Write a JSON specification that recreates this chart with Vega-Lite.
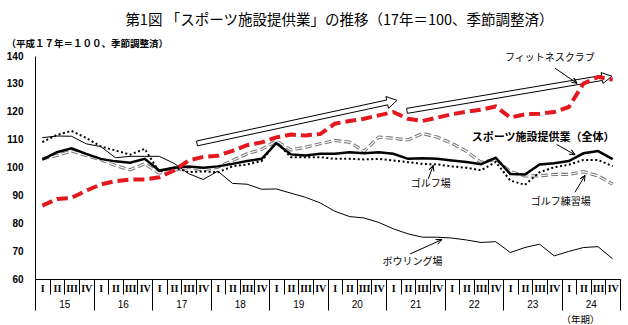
{
  "$schema": "https://vega.github.io/schema/vega-lite/v6.json",
  "width": 585,
  "height": 223,
  "autosize": {"type": "none"},
  "padding": {"left": 35, "top": 56, "right": 8, "bottom": 46},
  "background": "white",
  "config": {"view": {"stroke": null}, "font": "Noto Sans CJK JP"},
  "title": {"text": "第1図 「スポーツ施設提供業」の推移（17年＝100、季節調整済）", "anchor": "middle", "frame": "group", "fontSize": 14.5, "fontWeight": "normal", "font": "Noto Sans CJK JP", "offset": 10, "dx": 12, "color": "black"},
  "datasets": {
    "series": [
      {"t": 2015.125, "fitness": 86.3, "overall": 102.8, "golf": 109.1, "practice": 103.1, "bowling": 110.7},
      {"t": 2015.375, "fitness": 88.7, "overall": 105.5, "golf": 111.7, "practice": 104.3, "bowling": 111.3},
      {"t": 2015.625, "fitness": 89.1, "overall": 106.9, "golf": 113.1, "practice": 105.9, "bowling": 111.2},
      {"t": 2015.875, "fitness": 91.7, "overall": 104.9, "golf": 110.6, "practice": 104.3, "bowling": 108.5},
      {"t": 2016.125, "fitness": 93.9, "overall": 103.1, "golf": 107.6, "practice": 102.8, "bowling": 107.5},
      {"t": 2016.375, "fitness": 95.1, "overall": 102.2, "golf": 106.1, "practice": 100.7, "bowling": 103.5},
      {"t": 2016.625, "fitness": 95.7, "overall": 101.7, "golf": 104.6, "practice": 99.2, "bowling": 104},
      {"t": 2016.875, "fitness": 95.7, "overall": 103.1, "golf": 106.7, "practice": 101.3, "bowling": 104},
      {"t": 2017.125, "fitness": 96.5, "overall": 98.9, "golf": 98.4, "practice": 98, "bowling": 104},
      {"t": 2017.375, "fitness": 98.9, "overall": 99.9, "golf": 100.1, "practice": 99, "bowling": 101.5},
      {"t": 2017.625, "fitness": 102.5, "overall": 100.4, "golf": 98.3, "practice": 100, "bowling": 97.8},
      {"t": 2017.875, "fitness": 103.8, "overall": 99.9, "golf": 98.6, "practice": 99.2, "bowling": 95.7},
      {"t": 2018.125, "fitness": 104.2, "overall": 100.4, "golf": 98.3, "practice": 100.1, "bowling": 98.7},
      {"t": 2018.375, "fitness": 106, "overall": 101.3, "golf": 100.4, "practice": 102.5, "bowling": 94.3},
      {"t": 2018.625, "fitness": 108, "overall": 102.3, "golf": 101.1, "practice": 104.9, "bowling": 94},
      {"t": 2018.875, "fitness": 109, "overall": 103.1, "golf": 102.3, "practice": 106.5, "bowling": 92.2},
      {"t": 2019.125, "fitness": 110.8, "overall": 108.7, "golf": 109.1, "practice": 109.5, "bowling": 92.3},
      {"t": 2019.375, "fitness": 111.8, "overall": 104.7, "golf": 103.7, "practice": 106.3, "bowling": 90.8},
      {"t": 2019.625, "fitness": 111.5, "overall": 104.3, "golf": 103.7, "practice": 107.3, "bowling": 89.3},
      {"t": 2019.875, "fitness": 112, "overall": 104.9, "golf": 103.7, "practice": 108.5, "bowling": 87.3},
      {"t": 2020.125, "fitness": 115.7, "overall": 104.9, "golf": 103.1, "practice": 109.7, "bowling": 84.3},
      {"t": 2020.375, "fitness": 116.7, "overall": 105.5, "golf": 103.1, "practice": 109.1, "bowling": 82.4},
      {"t": 2020.625, "fitness": 117.5, "overall": 105.1, "golf": 102.9, "practice": 105.8, "bowling": 81.9},
      {"t": 2020.875, "fitness": 118.7, "overall": 105.5, "golf": 103.1, "practice": 110.9, "bowling": 80.3},
      {"t": 2021.125, "fitness": 119.9, "overall": 104.9, "golf": 102.5, "practice": 110.5, "bowling": 78},
      {"t": 2021.375, "fitness": 117.5, "overall": 103.1, "golf": 101.9, "practice": 109.9, "bowling": 76.2},
      {"t": 2021.625, "fitness": 116.7, "overall": 103.3, "golf": 101.3, "practice": 112.2, "bowling": 75},
      {"t": 2021.875, "fitness": 117.9, "overall": 103.1, "golf": 101.1, "practice": 110.9, "bowling": 75},
      {"t": 2022.125, "fitness": 119.1, "overall": 102.5, "golf": 100.4, "practice": 108.7, "bowling": 74.7},
      {"t": 2022.375, "fitness": 120, "overall": 102, "golf": 99.9, "practice": 105.8, "bowling": 74},
      {"t": 2022.625, "fitness": 120.7, "overall": 101.2, "golf": 99, "practice": 101.8, "bowling": 73.1},
      {"t": 2022.875, "fitness": 121.9, "overall": 103.5, "golf": 102, "practice": 103, "bowling": 73.4},
      {"t": 2023.125, "fitness": 117.9, "overall": 97.7, "golf": 95.3, "practice": 98.5, "bowling": 69.5},
      {"t": 2023.375, "fitness": 119.1, "overall": 97.5, "golf": 93.8, "practice": 97, "bowling": 71.3},
      {"t": 2023.625, "fitness": 119.3, "overall": 101.1, "golf": 98.3, "practice": 97, "bowling": 72.5},
      {"t": 2023.875, "fitness": 119.9, "overall": 101.5, "golf": 100.1, "practice": 97.5, "bowling": 68.3},
      {"t": 2024.125, "fitness": 121.7, "overall": 102.3, "golf": 101, "practice": 97.5, "bowling": 69.9},
      {"t": 2024.375, "fitness": 130.1, "overall": 105.1, "golf": 102.7, "practice": 98.5, "bowling": 71.3},
      {"t": 2024.625, "fitness": 132.5, "overall": 105.9, "golf": 102.7, "practice": 97, "bowling": 71.6},
      {"t": 2024.875, "fitness": 131.5, "overall": 103, "golf": 100.5, "practice": 94, "bowling": 67.2}
    ],
    "shapes": [
      {"id": "a1", "seq": 1, "t": 2017.7775, "value": 107.77},
      {"id": "a1", "seq": 2, "t": 2021.03, "value": 122.48},
      {"id": "a1", "seq": 3, "t": 2021.0425, "value": 121.22},
      {"id": "a1", "seq": 4, "t": 2021.1875, "value": 124.1},
      {"id": "a1", "seq": 5, "t": 2020.9975, "value": 125.47},
      {"id": "a1", "seq": 6, "t": 2021.0125, "value": 124.21},
      {"id": "a1", "seq": 7, "t": 2017.76, "value": 109.5},
      {"id": "a1", "seq": 8, "t": 2017.7775, "value": 107.77},
      {"id": "a2", "seq": 1, "t": 2021.365, "value": 119.42},
      {"id": "a2", "seq": 2, "t": 2024.7, "value": 131.22},
      {"id": "a2", "seq": 3, "t": 2024.71, "value": 130.18},
      {"id": "a2", "seq": 4, "t": 2024.8625, "value": 132.73},
      {"id": "a2", "seq": 5, "t": 2024.6775, "value": 134.06},
      {"id": "a2", "seq": 6, "t": 2024.6875, "value": 133.02},
      {"id": "a2", "seq": 7, "t": 2021.3525, "value": 121.22},
      {"id": "a2", "seq": 8, "t": 2021.365, "value": 119.42},
      {"id": "p1", "seq": 1, "t": 2023.89, "value": 135.61},
      {"id": "p1", "seq": 2, "t": 2024.265, "value": 130.22},
      {"id": "p1", "seq": 3, "t": 2024.2125, "value": 132.09},
      {"id": "p1", "seq": 4, "t": 2024.265, "value": 130.22},
      {"id": "p1", "seq": 5, "t": 2024.165, "value": 130.58},
      {"id": "p2", "seq": 1, "t": 2023.9175, "value": 108.27},
      {"id": "p2", "seq": 2, "t": 2024.23, "value": 104.57},
      {"id": "p2", "seq": 3, "t": 2024.17, "value": 106.33},
      {"id": "p2", "seq": 4, "t": 2024.23, "value": 104.57},
      {"id": "p2", "seq": 5, "t": 2024.1275, "value": 104.75},
      {"id": "p3", "seq": 1, "t": 2021.7225, "value": 95.94},
      {"id": "p3", "seq": 2, "t": 2021.8075, "value": 100.72},
      {"id": "p3", "seq": 3, "t": 2021.735, "value": 99.21},
      {"id": "p3", "seq": 4, "t": 2021.8075, "value": 100.72},
      {"id": "p3", "seq": 5, "t": 2021.8175, "value": 98.56},
      {"id": "p4", "seq": 1, "t": 2024.23, "value": 91.12},
      {"id": "p4", "seq": 2, "t": 2024.4025, "value": 97.12},
      {"id": "p4", "seq": 3, "t": 2024.315, "value": 95.9},
      {"id": "p4", "seq": 4, "t": 2024.4025, "value": 97.12},
      {"id": "p4", "seq": 5, "t": 2024.3925, "value": 94.96},
      {"id": "p5", "seq": 1, "t": 2021.41, "value": 68.96},
      {"id": "p5", "seq": 2, "t": 2021.9525, "value": 74.1},
      {"id": "p5", "seq": 3, "t": 2021.85, "value": 74.14},
      {"id": "p5", "seq": 4, "t": 2021.9525, "value": 74.1},
      {"id": "p5", "seq": 5, "t": 2021.885, "value": 72.48}
    ],
    "labels": [
      {"t": 2023.8025, "value": 139.2, "label": "フィットネスクラブ"},
      {"t": 2021.765, "value": 94.14, "label": "ゴルフ場"},
      {"t": 2023.9875, "value": 87.52, "label": "ゴルフ練習場"},
      {"t": 2021.4525, "value": 65.93, "label": "ボウリング場"}
    ],
    "boldlabels": [
      {"t": 2023.685, "value": 110.43, "label": "スポーツ施設提供業（全体）"}
    ]
  },
  "encoding": {
    "x": {"field": "t", "type": "quantitative", "scale": {"domain": [2015, 2025], "nice": false, "zero": false}, "axis": null},
    "y": {
      "field": "value", "type": "quantitative",
      "scale": {"domain": [60, 140], "nice": false, "zero": false},
      "axis": {
        "orient": "left",
        "values": [60, 70, 80, 90, 100, 110, 120, 130, 140],
        "grid": false, "ticks": false, "domain": true, "domainColor": "black", "domainWidth": 1,
        "labelFont": "Liberation Sans", "labelFontSize": 10, "labelFontWeight": "bold", "labelColor": "black", "labelPadding": 12,
        "title": "（平成１７年＝１００、季節調整済）", "titleAngle": 0, "titleAlign": "left", "titleBaseline": "middle",
        "titleX": -29, "titleY": -13, "titleFont": "Noto Sans CJK JP", "titleFontSize": 9.5, "titleFontWeight": "bold", "titleColor": "black"
      }
    }
  },
  "layer": [
    {
      "data": {"name": "shapes"},
      "mark": {"type": "line", "color": "black", "strokeWidth": 1},
      "encoding": {
        "x": {"field": "t", "type": "quantitative", "scale": {"domain": [2015, 2025], "nice": false, "zero": false},
          "axis": {"orient": "bottom", "values": [2015, 2015.25, 2015.5, 2015.75, 2016, 2016.25, 2016.5, 2016.75, 2017, 2017.25, 2017.5, 2017.75, 2018, 2018.25, 2018.5, 2018.75, 2019, 2019.25, 2019.5, 2019.75, 2020, 2020.25, 2020.5, 2020.75, 2021, 2021.25, 2021.5, 2021.75, 2022, 2022.25, 2022.5, 2022.75, 2023, 2023.25, 2023.5, 2023.75, 2024, 2024.25, 2024.5, 2024.75, 2025],
            "ticks": true, "tickSize": 15, "tickColor": "black", "tickWidth": 1, "labels": false, "domain": false, "grid": false, "title": null}},
        "detail": {"field": "id"},
        "order": {"field": "seq", "type": "quantitative"}
      }
    },
    {
      "data": {"name": "series"},
      "transform": [{"fold": ["bowling"], "as": ["series", "value"]}],
      "mark": {"type": "line", "color": "black", "strokeWidth": 1},
      "encoding": {
        "x": {"field": "t", "type": "quantitative", "scale": {"domain": [2015, 2025], "nice": false, "zero": false},
          "axis": {"orient": "bottom", "values": [2015, 2016, 2017, 2018, 2019, 2020, 2021, 2022, 2023, 2024, 2025],
            "ticks": true, "tickSize": 31, "tickColor": "black", "tickWidth": 1, "labels": false, "domain": false, "grid": false, "title": null}}
      }
    },
    {
      "data": {"name": "series"},
      "transform": [{"fold": ["practice"], "as": ["series", "value"]}],
      "mark": {"type": "line", "color": "#7a7a7a", "strokeWidth": 3.2, "strokeDash": [7, 3]},
      "encoding": {
        "x": {"field": "t", "type": "quantitative", "scale": {"domain": [2015, 2025], "nice": false, "zero": false},
          "axis": {"orient": "bottom", "values": [2015.125, 2015.375, 2015.625, 2015.875, 2016.125, 2016.375, 2016.625, 2016.875, 2017.125, 2017.375, 2017.625, 2017.875, 2018.125, 2018.375, 2018.625, 2018.875, 2019.125, 2019.375, 2019.625, 2019.875, 2020.125, 2020.375, 2020.625, 2020.875, 2021.125, 2021.375, 2021.625, 2021.875, 2022.125, 2022.375, 2022.625, 2022.875, 2023.125, 2023.375, 2023.625, 2023.875, 2024.125, 2024.375, 2024.625, 2024.875],
            "ticks": false, "domain": true, "domainColor": "black", "domainWidth": 1, "grid": false, "title": null,
            "labelExpr": "['I','II','III','IV'][floor((datum.value - floor(datum.value)) * 4)]",
            "labelFont": "Liberation Serif", "labelFontSize": 10, "labelFontWeight": "bold", "labelColor": "black",
            "labelPadding": 4, "labelFlush": false, "labelOverlap": false}}
      }
    },
    {
      "data": {"name": "series"},
      "transform": [{"fold": ["practice"], "as": ["series", "value"]}],
      "mark": {"type": "line", "color": "white", "strokeWidth": 1.1, "strokeDash": [7, 3]}
    },
    {
      "data": {"name": "series"},
      "transform": [{"fold": ["golf"], "as": ["series", "value"]}],
      "mark": {"type": "line", "color": "black", "strokeWidth": 2, "strokeDash": [2, 2.5]},
      "encoding": {
        "x": {"field": "t", "type": "quantitative", "scale": {"domain": [2015, 2025], "nice": false, "zero": false},
          "axis": {"orient": "bottom", "values": [2015.5, 2016.5, 2017.5, 2018.5, 2019.5, 2020.5, 2021.5, 2022.5, 2023.5, 2024.5],
            "ticks": false, "domain": false, "grid": false,
            "labelExpr": "format(floor(datum.value) - 2000, 'd')",
            "labelFont": "Liberation Sans", "labelFontSize": 10, "labelColor": "black", "labelPadding": 20, "labelFlush": false,
            "title": "（年期）", "titleX": 545, "titleY": 40, "titleAlign": "center", "titleBaseline": "middle",
            "titleFont": "Noto Sans CJK JP", "titleFontSize": 9.5, "titleFontWeight": "normal", "titleColor": "black"}}
      }
    },
    {
      "data": {"name": "series"},
      "transform": [{"fold": ["overall"], "as": ["series", "value"]}],
      "mark": {"type": "line", "color": "black", "strokeWidth": 2.5}
    },
    {
      "data": {"name": "series"},
      "transform": [{"fold": ["fitness"], "as": ["series", "value"]}],
      "mark": {"type": "line", "color": "#e3191f", "strokeWidth": 4, "strokeDash": [11, 5]}
    },
    {
      "data": {"name": "labels"},
      "mark": {"type": "text", "font": "Noto Sans CJK JP", "fontSize": 10, "color": "black", "align": "center", "baseline": "middle"},
      "encoding": {"text": {"field": "label"}}
    },
    {
      "data": {"name": "boldlabels"},
      "mark": {"type": "text", "font": "Noto Sans CJK JP", "fontSize": 11, "fontWeight": "bold", "color": "black", "align": "center", "baseline": "middle"},
      "encoding": {"text": {"field": "label"}}
    }
  ],
  "resolve": {"axis": {"x": "independent"}}
}
